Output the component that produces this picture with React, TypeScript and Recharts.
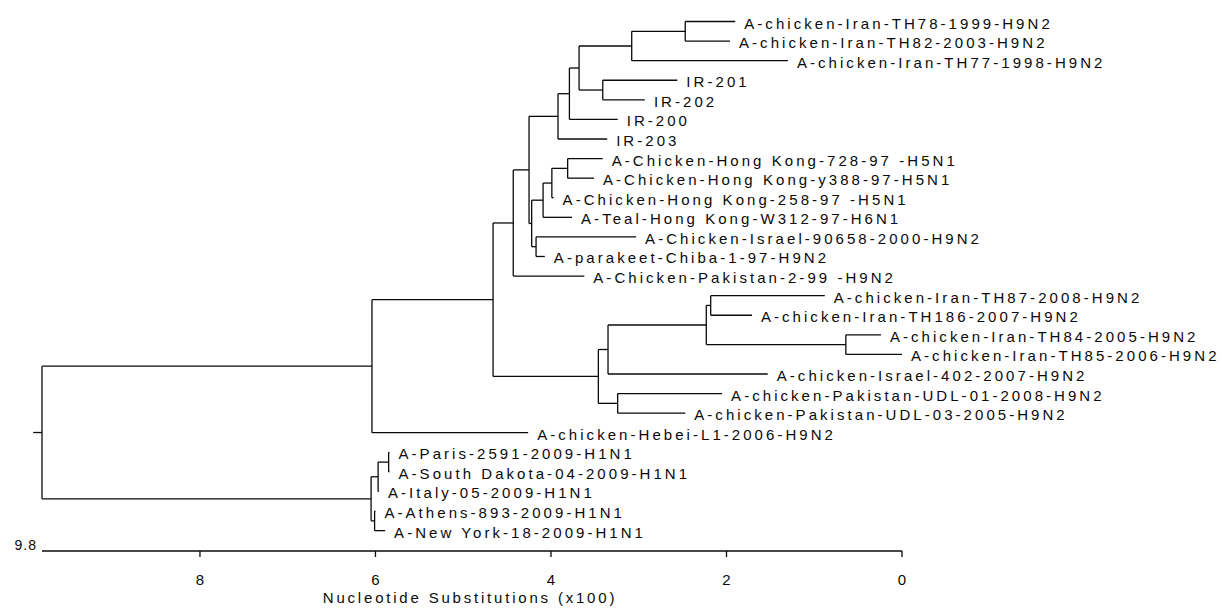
import React from "react";
import { ComposedChart, XAxis, YAxis, Scatter, ReferenceLine } from "recharts";

// leaves, top to bottom
const leafNames = [
  "A-chicken-Iran-TH78-1999-H9N2",
  "A-chicken-Iran-TH82-2003-H9N2",
  "A-chicken-Iran-TH77-1998-H9N2",
  "IR-201",
  "IR-202",
  "IR-200",
  "IR-203",
  "A-Chicken-Hong Kong-728-97 -H5N1",
  "A-Chicken-Hong Kong-y388-97-H5N1",
  "A-Chicken-Hong Kong-258-97 -H5N1",
  "A-Teal-Hong Kong-W312-97-H6N1",
  "A-Chicken-Israel-90658-2000-H9N2",
  "A-parakeet-Chiba-1-97-H9N2",
  "A-Chicken-Pakistan-2-99 -H9N2",
  "A-chicken-Iran-TH87-2008-H9N2",
  "A-chicken-Iran-TH186-2007-H9N2",
  "A-chicken-Iran-TH84-2005-H9N2",
  "A-chicken-Iran-TH85-2006-H9N2",
  "A-chicken-Israel-402-2007-H9N2",
  "A-chicken-Pakistan-UDL-01-2008-H9N2",
  "A-chicken-Pakistan-UDL-03-2005-H9N2",
  "A-chicken-Hebei-L1-2006-H9N2",
  "A-Paris-2591-2009-H1N1",
  "A-South Dakota-04-2009-H1N1",
  "A-Italy-05-2009-H1N1",
  "A-Athens-893-2009-H1N1",
  "A-New York-18-2009-H1N1",
];

// where each leaf branch ends (substitutions x100, 0 = right edge)
const leafTips = [
  1.9, 1.96, 1.3, 2.56, 2.93, 3.24, 3.36, 3.41, 3.51, 3.97, 3.76, 3.03, 4.07,
  3.62, 0.88, 1.71, 0.24, 0.0, 1.53, 2.05, 2.47, 4.26, 5.84, 5.84, 5.96, 6.0,
  5.89,
];

// internal nodes, children listed before parents; last one is the root
const nodeDepths = [
  2.47, 3.08, 3.41, 3.68, 3.79, 3.92, 3.81, 3.99, 4.09, 4.17, 4.22, 4.25, 4.43,
  2.18, 0.64, 2.23, 3.35, 3.24, 3.46, 4.66, 6.04, 5.85, 5.97, 6.01, 6.05, 9.8,
];
const nodeChildren = [
  ["L0", "L1"],
  ["N0", "L2"],
  ["L3", "L4"],
  ["N1", "N2"],
  ["N3", "L5"],
  ["N4", "L6"],
  ["L7", "L8"],
  ["N6", "L9"],
  ["N7", "L10"],
  ["L11", "L12"],
  ["N8", "N9"],
  ["N5", "N10"],
  ["N11", "L13"],
  ["L14", "L15"],
  ["L16", "L17"],
  ["N13", "N14"],
  ["N15", "L18"],
  ["L19", "L20"],
  ["N16", "N17"],
  ["N12", "N18"],
  ["N19", "L21"],
  ["L22", "L23"],
  ["N21", "L24"],
  ["L25", "L26"],
  ["N22", "N23"],
  ["N20", "N24"],
];
const rootStub = 9.9;

const axisTicks = [0, 2, 4, 6, 8, 9.8];

const FONT = "'Liberation Sans', Arial, sans-serif";
const INK = "#0a0a0a";

type Pt = { x: number; y: number };

function buildSegments() {
  const pos: Record<string, Pt> = {};
  leafTips.forEach((x, i) => (pos["L" + i] = { x, y: i }));
  const segs: Pt[][] = [];
  nodeChildren.forEach((kids, j) => {
    const x = nodeDepths[j];
    const ys = kids.map((k) => pos[k].y);
    const lo = Math.min(...ys);
    const hi = Math.max(...ys);
    segs.push([{ x, y: lo }, { x, y: hi }]);
    kids.forEach((k) => segs.push([{ x, y: pos[k].y }, { x: pos[k].x, y: pos[k].y }]));
    pos["N" + j] = { x, y: (lo + hi) / 2 };
  });
  const root = pos["N" + (nodeChildren.length - 1)];
  segs.push([{ x: rootStub, y: root.y }, { x: root.x, y: root.y }]);
  return segs;
}

const segments = buildSegments();
const leaves = leafNames.map((name, i) => ({ x: leafTips[i], y: i, name }));

const AxisTick = (props: any) => {
  const { x, y, payload } = props;
  if (payload.value === 9.8) {
    return (
      <text x={x - 5} y={y - 1} textAnchor="end" fontFamily={FONT} fontSize={14} letterSpacing={1} fill={INK}>
        9.8
      </text>
    );
  }
  return (
    <g>
      <line x1={x} y1={y} x2={x} y2={y + 6} stroke={INK} strokeWidth={1.3} />
      <text x={x} y={y + 34} textAnchor="middle" fontFamily={FONT} fontSize={15} fill={INK}>
        {payload.value}
      </text>
    </g>
  );
};

const LeafLabel = (props: any) => {
  const { cx, cy, payload } = props;
  return (
    <text
      x={cx + 9}
      y={cy + 1.5}
      dominantBaseline="central"
      fontFamily={FONT}
      fontSize={15}
      letterSpacing={3.05}
      fill={INK}
    >
      {payload.name}
    </text>
  );
};

export default function App() {
  return (
    <div style={{ position: "absolute", left: 0, top: 0, background: "#fff" }}>
      <ComposedChart
        width={1222}
        height={608}
        margin={{ top: 21.5, right: 320, bottom: 7, left: 42 }}
      >
        <XAxis
          type="number"
          dataKey="x"
          domain={[0, 9.8]}
          reversed
          ticks={axisTicks}
          interval={0}
          tickLine={false}
          tickSize={0}
          tickMargin={0}
          height={50}
          axisLine={{ stroke: INK, strokeWidth: 1.3 }}
          tick={<AxisTick />}
          label={(p: any) => {
            const vb = p.viewBox;
            return (
              <text
                x={vb.x + vb.width / 2 - 2}
                y={603}
                textAnchor="middle"
                fontFamily={FONT}
                fontSize={15}
                letterSpacing={2.8}
                fill={INK}
              >
                Nucleotide Substitutions (x100)
              </text>
            );
          }}
        />
        <YAxis type="number" dataKey="y" domain={[0, 27.04]} reversed hide width={0} />
        {segments.map((s, i) => (
          <ReferenceLine
            key={i}
            segment={s}
            stroke={INK}
            strokeWidth={1.3}
            ifOverflow="visible"
          />
        ))}
        <Scatter data={leaves} shape={<LeafLabel />} isAnimationActive={false} />
      </ComposedChart>
    </div>
  );
}
